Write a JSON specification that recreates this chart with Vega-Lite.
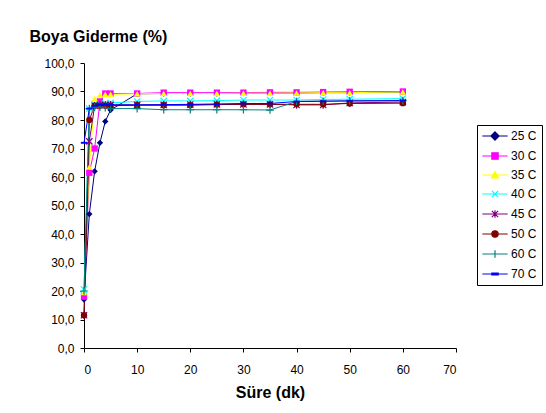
{
  "$schema": "https://vega.github.io/schema/vega-lite/v6.json",
  "width": 372,
  "height": 285,
  "autosize": {"type": "none"},
  "padding": {"left": 84, "top": 63, "right": 90, "bottom": 65},
  "background": "white",
  "data": {
    "values": [
      {"t": 0, "seri": "25 C", "v": 17}, {"t": 1, "seri": "25 C", "v": 47}, {"t": 2, "seri": "25 C", "v": 62}, {"t": 3, "seri": "25 C", "v": 72},
      {"t": 4, "seri": "25 C", "v": 79.5}, {"t": 5, "seri": "25 C", "v": 83.5}, {"t": 10, "seri": "25 C", "v": 89.2}, {"t": 15, "seri": "25 C", "v": 89.3},
      {"t": 20, "seri": "25 C", "v": 89.3}, {"t": 25, "seri": "25 C", "v": 89.3}, {"t": 30, "seri": "25 C", "v": 89.4}, {"t": 35, "seri": "25 C", "v": 89.4},
      {"t": 40, "seri": "25 C", "v": 89.5}, {"t": 45, "seri": "25 C", "v": 89.6}, {"t": 50, "seri": "25 C", "v": 89.6}, {"t": 60, "seri": "25 C", "v": 89.8},

      {"t": 0, "seri": "30 C", "v": 18}, {"t": 1, "seri": "30 C", "v": 61.5}, {"t": 2, "seri": "30 C", "v": 70}, {"t": 3, "seri": "30 C", "v": 86.5},
      {"t": 4, "seri": "30 C", "v": 89.3}, {"t": 5, "seri": "30 C", "v": 89.3}, {"t": 10, "seri": "30 C", "v": 89.3}, {"t": 15, "seri": "30 C", "v": 89.6},
      {"t": 20, "seri": "30 C", "v": 89.6}, {"t": 25, "seri": "30 C", "v": 89.6}, {"t": 30, "seri": "30 C", "v": 89.6}, {"t": 35, "seri": "30 C", "v": 89.7},
      {"t": 40, "seri": "30 C", "v": 89.7}, {"t": 45, "seri": "30 C", "v": 89.8}, {"t": 50, "seri": "30 C", "v": 89.9}, {"t": 60, "seri": "30 C", "v": 90},

      {"t": 0, "seri": "35 C", "v": 19.5}, {"t": 1, "seri": "35 C", "v": 63.5}, {"t": 2, "seri": "35 C", "v": 87.5}, {"t": 3, "seri": "35 C", "v": 88.8},
      {"t": 4, "seri": "35 C", "v": 89}, {"t": 5, "seri": "35 C", "v": 89}, {"t": 10, "seri": "35 C", "v": 89.2}, {"t": 15, "seri": "35 C", "v": 89.3},
      {"t": 20, "seri": "35 C", "v": 89.3}, {"t": 25, "seri": "35 C", "v": 89.3}, {"t": 30, "seri": "35 C", "v": 89.4}, {"t": 35, "seri": "35 C", "v": 89.4},
      {"t": 40, "seri": "35 C", "v": 89.5}, {"t": 45, "seri": "35 C", "v": 89.6}, {"t": 50, "seri": "35 C", "v": 89.6}, {"t": 60, "seri": "35 C", "v": 89.8},

      {"t": 0, "seri": "40 C", "v": 20.5}, {"t": 1, "seri": "40 C", "v": 84}, {"t": 2, "seri": "40 C", "v": 85.5}, {"t": 3, "seri": "40 C", "v": 85.5},
      {"t": 4, "seri": "40 C", "v": 85.8}, {"t": 5, "seri": "40 C", "v": 86}, {"t": 10, "seri": "40 C", "v": 86.5}, {"t": 15, "seri": "40 C", "v": 86.7},
      {"t": 20, "seri": "40 C", "v": 86.7}, {"t": 25, "seri": "40 C", "v": 86.8}, {"t": 30, "seri": "40 C", "v": 87}, {"t": 35, "seri": "40 C", "v": 87},
      {"t": 40, "seri": "40 C", "v": 87}, {"t": 45, "seri": "40 C", "v": 87.2}, {"t": 50, "seri": "40 C", "v": 87.3}, {"t": 60, "seri": "40 C", "v": 87.5},

      {"t": 0, "seri": "45 C", "v": 11.5}, {"t": 1, "seri": "45 C", "v": 72.5}, {"t": 2, "seri": "45 C", "v": 85}, {"t": 3, "seri": "45 C", "v": 85.3},
      {"t": 4, "seri": "45 C", "v": 85.3}, {"t": 5, "seri": "45 C", "v": 85.3}, {"t": 10, "seri": "45 C", "v": 85.3}, {"t": 15, "seri": "45 C", "v": 85.3},
      {"t": 20, "seri": "45 C", "v": 85.4}, {"t": 25, "seri": "45 C", "v": 85.5}, {"t": 30, "seri": "45 C", "v": 85.5}, {"t": 35, "seri": "45 C", "v": 85.5},
      {"t": 40, "seri": "45 C", "v": 85.3}, {"t": 45, "seri": "45 C", "v": 85.3}, {"t": 50, "seri": "45 C", "v": 86}, {"t": 60, "seri": "45 C", "v": 86.3},

      {"t": 0, "seri": "50 C", "v": 11.5}, {"t": 1, "seri": "50 C", "v": 80}, {"t": 2, "seri": "50 C", "v": 85}, {"t": 3, "seri": "50 C", "v": 85},
      {"t": 4, "seri": "50 C", "v": 85}, {"t": 5, "seri": "50 C", "v": 85}, {"t": 10, "seri": "50 C", "v": 85.2}, {"t": 15, "seri": "50 C", "v": 85.2},
      {"t": 20, "seri": "50 C", "v": 85.2}, {"t": 25, "seri": "50 C", "v": 85.4}, {"t": 30, "seri": "50 C", "v": 85.5}, {"t": 35, "seri": "50 C", "v": 85.5},
      {"t": 40, "seri": "50 C", "v": 85.5}, {"t": 45, "seri": "50 C", "v": 85.5}, {"t": 50, "seri": "50 C", "v": 85.8}, {"t": 60, "seri": "50 C", "v": 85.9},

      {"t": 0, "seri": "60 C", "v": 20}, {"t": 1, "seri": "60 C", "v": 84}, {"t": 2, "seri": "60 C", "v": 84.5}, {"t": 3, "seri": "60 C", "v": 84.5},
      {"t": 4, "seri": "60 C", "v": 84.3}, {"t": 5, "seri": "60 C", "v": 84}, {"t": 10, "seri": "60 C", "v": 84}, {"t": 15, "seri": "60 C", "v": 83.6},
      {"t": 20, "seri": "60 C", "v": 83.6}, {"t": 25, "seri": "60 C", "v": 83.6}, {"t": 30, "seri": "60 C", "v": 83.6}, {"t": 35, "seri": "60 C", "v": 83.5},
      {"t": 40, "seri": "60 C", "v": 86.5}, {"t": 45, "seri": "60 C", "v": 86.6}, {"t": 50, "seri": "60 C", "v": 86.7}, {"t": 60, "seri": "60 C", "v": 86.8},

      {"t": 0, "seri": "70 C", "v": 72}, {"t": 1, "seri": "70 C", "v": 84}, {"t": 2, "seri": "70 C", "v": 85}, {"t": 3, "seri": "70 C", "v": 85.3},
      {"t": 4, "seri": "70 C", "v": 85.3}, {"t": 5, "seri": "70 C", "v": 85.3}, {"t": 10, "seri": "70 C", "v": 85.3}, {"t": 15, "seri": "70 C", "v": 85.4},
      {"t": 20, "seri": "70 C", "v": 85.5}, {"t": 25, "seri": "70 C", "v": 85.6}, {"t": 30, "seri": "70 C", "v": 85.8}, {"t": 35, "seri": "70 C", "v": 85.8},
      {"t": 40, "seri": "70 C", "v": 86.5}, {"t": 45, "seri": "70 C", "v": 86.6}, {"t": 50, "seri": "70 C", "v": 86.7}, {"t": 60, "seri": "70 C", "v": 86.8}
    ]
  },
  "encoding": {
    "x": {
      "field": "t",
      "type": "quantitative",
      "scale": {"domain": [0, 70], "nice": false},
      "axis": {
        "values": [0, 10, 20, 30, 40, 50, 60, 70],
        "title": "Süre (dk)",
        "titleFontSize": 16,
        "titleFontWeight": "bold",
        "titlePadding": 9,
        "tickSize": 4,
        "labelPadding": 12
      }
    },
    "y": {
      "field": "v",
      "type": "quantitative",
      "scale": {"domain": [0, 100], "nice": false},
      "axis": {
        "values": [0, 10, 20, 30, 40, 50, 60, 70, 80, 90, 100],
        "labelExpr": "replace(format(datum.value, '.1f'), '.', ',')",
        "title": "Boya Giderme (%)",
        "titleAngle": 0,
        "titleAlign": "left",
        "titleBaseline": "middle",
        "titleX": -55,
        "titleY": -27,
        "titleFontSize": 16,
        "titleFontWeight": "bold",
        "tickSize": 4,
        "labelPadding": 6
      }
    },
    "color": {
      "field": "seri",
      "type": "nominal",
      "scale": {
        "domain": ["25 C", "30 C", "35 C", "40 C", "45 C", "50 C", "60 C", "70 C"],
        "range": ["#000080", "#FF00FF", "#FFFF00", "#00FFFF", "#800080", "#800000", "#008080", "#0000FF"]
      },
      "legend": {
        "orient": "none",
        "legendX": 393,
        "legendY": 62,
        "title": null,
        "strokeColor": "black",
        "fillColor": "white",
        "padding": 5,
        "rowPadding": 7,
        "symbolSize": 40,
        "symbolOffset": 7,
        "labelFontSize": 12,
        "labelFont": "Liberation Sans",
        "labelColor": "black",
        "labelOffset": 10,
        "encode": {
          "symbols": {
            "update": {
              "shape": {"signal": "{'25 C': 'M-4,0L4,0M0,-1.3L1.3,0L0,1.3L-1.3,0Z', '30 C': 'M-4,0L4,0M-1,-1L1,-1L1,1L-1,1Z', '35 C': 'M-4,0L4,0M0,-1.1L1.1,0.9L-1.1,0.9Z', '40 C': 'M-4,0L4,0M-1,-1L1,1M-1,1L1,-1', '45 C': 'M-4,0L4,0M-1,-1L1,1M-1,1L1,-1M0,-1.2L0,1.2', '50 C': 'M-4,0L4,0M-1,0A1,1,0,1,1,1,0A1,1,0,1,1,-1,0Z', '60 C': 'M-4,0L4,0M0,-1.2L0,1.2', '70 C': 'M-4,0L4,0M-1,-0.3L1,-0.3L1,0.3L-1,0.3Z'}[datum.value]"},
              "fill": {"scale": "color", "field": "value"},
              "stroke": {"scale": "color", "field": "value"},
              "strokeWidth": {"value": 1.2},
              "opacity": {"value": 1}
            }
          }
        }
      }
    }
  },
  "layer": [
    {"mark": {"type": "line", "strokeWidth": 1}},
    {
      "transform": [{"filter": "datum.seri == '25 C'"}],
      "mark": {"type": "point", "shape": "diamond", "filled": true, "size": 40, "opacity": 1}
    },
    {
      "transform": [{"filter": "datum.seri == '30 C'"}],
      "mark": {"type": "point", "shape": "square", "filled": true, "size": 40, "opacity": 1}
    },
    {
      "transform": [{"filter": "datum.seri == '35 C'"}],
      "mark": {"type": "point", "shape": "triangle-up", "filled": true, "size": 40, "opacity": 1}
    },
    {
      "transform": [{"filter": "datum.seri == '40 C'"}],
      "mark": {"type": "point", "shape": "M-1,-1L1,1M-1,1L1,-1", "filled": false, "size": 40, "strokeWidth": 1.2, "opacity": 1}
    },
    {
      "transform": [{"filter": "datum.seri == '45 C'"}],
      "mark": {"type": "point", "shape": "M-1,-1L1,1M-1,1L1,-1M0,-1.2L0,1.2", "filled": false, "size": 40, "strokeWidth": 1.2, "opacity": 1}
    },
    {
      "transform": [{"filter": "datum.seri == '50 C'"}],
      "mark": {"type": "point", "shape": "circle", "filled": true, "size": 40, "opacity": 1}
    },
    {
      "transform": [{"filter": "datum.seri == '60 C'"}],
      "mark": {"type": "point", "shape": "M-1.2,0L1.2,0M0,-1.2L0,1.2", "filled": false, "size": 40, "strokeWidth": 1.2, "opacity": 1}
    },
    {
      "transform": [{"filter": "datum.seri == '70 C'"}],
      "mark": {"type": "point", "shape": "M-1,-0.3L1,-0.3L1,0.3L-1,0.3Z", "filled": true, "size": 40, "opacity": 1}
    }
  ],
  "config": {
    "view": {"stroke": null},
    "font": "Liberation Sans",
    "axis": {
      "grid": false,
      "domainColor": "black",
      "tickColor": "black",
      "labelColor": "black",
      "titleColor": "black",
      "labelFontSize": 12,
      "labelFont": "Liberation Sans",
      "titleFont": "Liberation Sans"
    }
  }
}
